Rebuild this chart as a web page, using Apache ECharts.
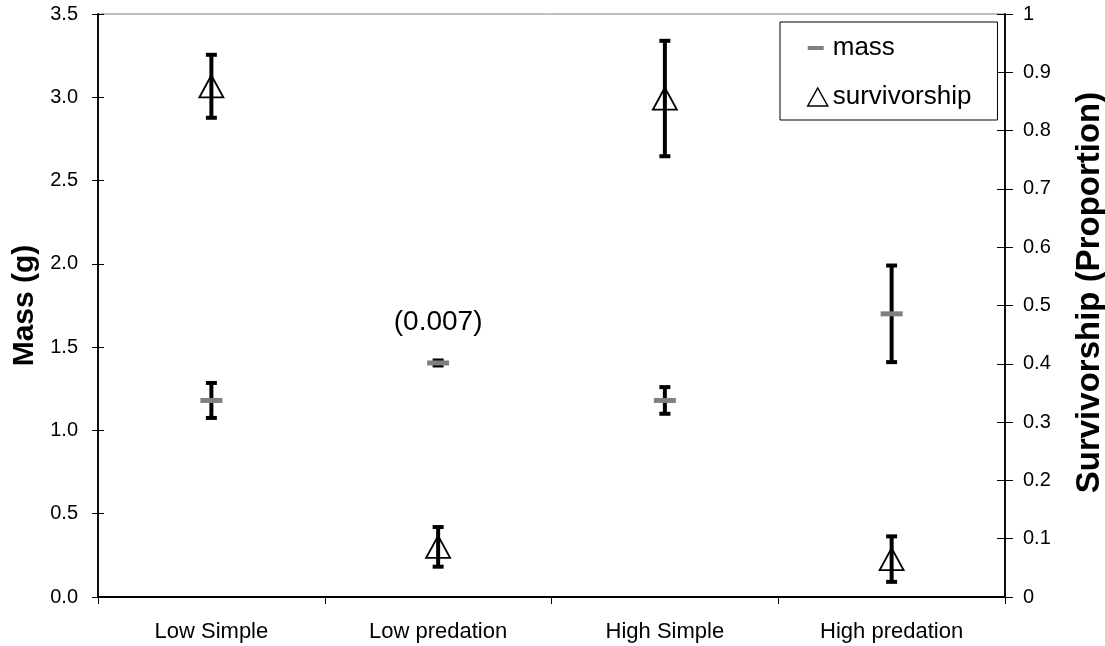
<!DOCTYPE html>
<html>
<head>
<meta charset="utf-8">
<script src="https://cdn.jsdelivr.net/npm/echarts@6/dist/echarts.min.js"></script>
<style>
html,body{margin:0;padding:0;background:#fff;}
#chart{width:1105px;height:646px;}
</style>
</head>
<body>
<div id="chart"></div>
<script>
// ---- data ----
const categories = ['Low Simple', 'Low predation', 'High Simple', 'High predation'];
const massMean = [1.18, 1.405, 1.18, 1.70];
const massErr = [0.105, 0.015, 0.08, 0.29];
const survMean = [0.876, 0.086, 0.855, 0.065];
const survErr = [0.054, 0.034, 0.099, 0.039];
const massNotes = ['', '(0.007)', '', ''];
const massTicks = [0, 0.5, 1.0, 1.5, 2.0, 2.5, 3.0, 3.5];
const survTicks = [0, 0.1, 0.2, 0.3, 0.4, 0.5, 0.6, 0.7, 0.8, 0.9, 1];

const FONT = "'Liberation Sans', Arial, sans-serif";

const chart = echarts.init(document.getElementById('chart'), null, {renderer: 'canvas'});

function errRender(params, api) {
  const x = api.value(0), m = api.value(1), e = api.value(2);
  const top = api.coord([x, m + e]);
  const bot = api.coord([x, m - e]);
  return {
    type: 'group',
    children: [
      {type: 'line', shape: {x1: top[0], y1: top[1], x2: bot[0], y2: bot[1]}, style: {stroke: '#000', lineWidth: 4}},
      {type: 'rect', shape: {x: top[0] - 5.5, y: top[1] - 2, width: 11, height: 4}, style: {fill: '#000'}},
      {type: 'rect', shape: {x: bot[0] - 5.5, y: bot[1] - 2, width: 11, height: 4}, style: {fill: '#000'}}
    ]
  };
}

const yBase = {
  type: 'value',
  splitLine: {show: false},
  axisLine: {show: true, lineStyle: {color: '#000', width: 1.5}},
  axisTick: {show: true, length: 6, lineStyle: {color: '#000', width: 1}},
  axisLabel: {color: '#000', fontSize: 20, fontFamily: FONT}
};

const option = {
  animation: false,
  backgroundColor: '#fff',
  grid: {left: 98, right: 100, top: 14, bottom: 49, show: true, borderColor: '#808080', borderWidth: 1,
         backgroundColor: 'transparent', containLabel: false, outerBoundsMode: 'none'},
  legend: {
    orient: 'vertical',
    left: 780,
    top: 22,
    padding: [13, 26, 10, 27],
    itemGap: 23,
    itemWidth: 20,
    itemHeight: 18,
    borderColor: '#000',
    borderWidth: 1,
    backgroundColor: '#fff',
    textStyle: {fontSize: 26, color: '#000', fontFamily: FONT},
    data: [
      {name: 'mass', icon: 'path://M0,0M20,18M0,7h16v4h-16z', itemStyle: {color: '#808080', borderWidth: 0}},
      {name: 'survivorship', icon: 'path://M10,0L20,18L0,18Z', itemStyle: {color: '#fff', borderColor: '#000', borderWidth: 1.5}}
    ]
  },
  xAxis: {
    type: 'category',
    data: categories,
    boundaryGap: true,
    axisLine: {lineStyle: {color: '#000', width: 2}},
    axisTick: {show: true, length: 7, lineStyle: {color: '#000'}},
    axisLabel: {color: '#000', fontSize: 22, fontFamily: FONT, margin: 24}
  },
  yAxis: [
    Object.assign({}, yBase, {
      position: 'left', min: massTicks[0], max: massTicks[massTicks.length - 1], interval: 0.5,
      axisLabel: Object.assign({}, yBase.axisLabel, {margin: 20, formatter: v => v.toFixed(1)}),
      name: 'Mass (g)', nameLocation: 'middle', nameRotate: 90, nameGap: 54,
      nameTextStyle: {fontSize: 30, fontWeight: 'bold', color: '#000', fontFamily: FONT}
    }),
    Object.assign({}, yBase, {
      position: 'right', min: survTicks[0], max: survTicks[survTicks.length - 1], interval: 0.1,
      axisTick: {show: true, length: 8, lineStyle: {color: '#000'}},
      axisLabel: Object.assign({}, yBase.axisLabel, {margin: 18, formatter: v => (Math.round(v * 10) / 10).toString()}),
      name: 'Survivorship (Proportion)', nameLocation: 'middle', nameRotate: 90, nameGap: 68,
      nameTextStyle: {fontSize: 33, fontWeight: 'bold', color: '#000', fontFamily: FONT, padding: [0, 0, 0, 26]}
    }),
    Object.assign({}, yBase, {
      position: 'left', min: 0, max: 3.5, interval: 0.5,
      axisTick: {show: true, inside: true, length: 6, lineStyle: {color: '#000'}},
      axisLabel: {show: false}
    }),
    Object.assign({}, yBase, {
      position: 'right', min: 0, max: 1, interval: 0.1,
      axisTick: {show: true, inside: true, length: 8, lineStyle: {color: '#000'}},
      axisLabel: {show: false}
    })
  ],
  series: [
    {
      name: 'massErr', type: 'custom', xAxisIndex: 0, yAxisIndex: 0, z: 3,
      renderItem: errRender,
      encode: {x: 0, y: 1},
      data: categories.map((c, i) => [i, massMean[i], massErr[i]])
    },
    {
      name: 'survErr', type: 'custom', xAxisIndex: 0, yAxisIndex: 1, z: 3,
      renderItem: errRender,
      encode: {x: 0, y: 1},
      data: categories.map((c, i) => [i, survMean[i], survErr[i]])
    },
    {
      name: 'mass', type: 'scatter', xAxisIndex: 0, yAxisIndex: 0, z: 5,
      symbol: 'rect', symbolSize: [22, 5],
      itemStyle: {color: '#808080', opacity: 1},
      label: {
        show: true, position: 'top', distance: 24,
        fontSize: 28, color: '#000', opacity: 1, textBorderWidth: 0, fontFamily: FONT,
        formatter: p => massNotes[p.dataIndex]
      },
      data: categories.map((c, i) => [i, massMean[i]])
    },
    {
      name: 'survivorship', type: 'scatter', xAxisIndex: 0, yAxisIndex: 1, z: 4,
      symbol: 'triangle', symbolSize: [24, 22],
      itemStyle: {color: 'rgba(255,255,255,0)', borderColor: '#000', borderWidth: 1.8, opacity: 1},
      data: categories.map((c, i) => [i, survMean[i]])
    }
  ]
};
chart.setOption(option);
</script>
</body>
</html>
